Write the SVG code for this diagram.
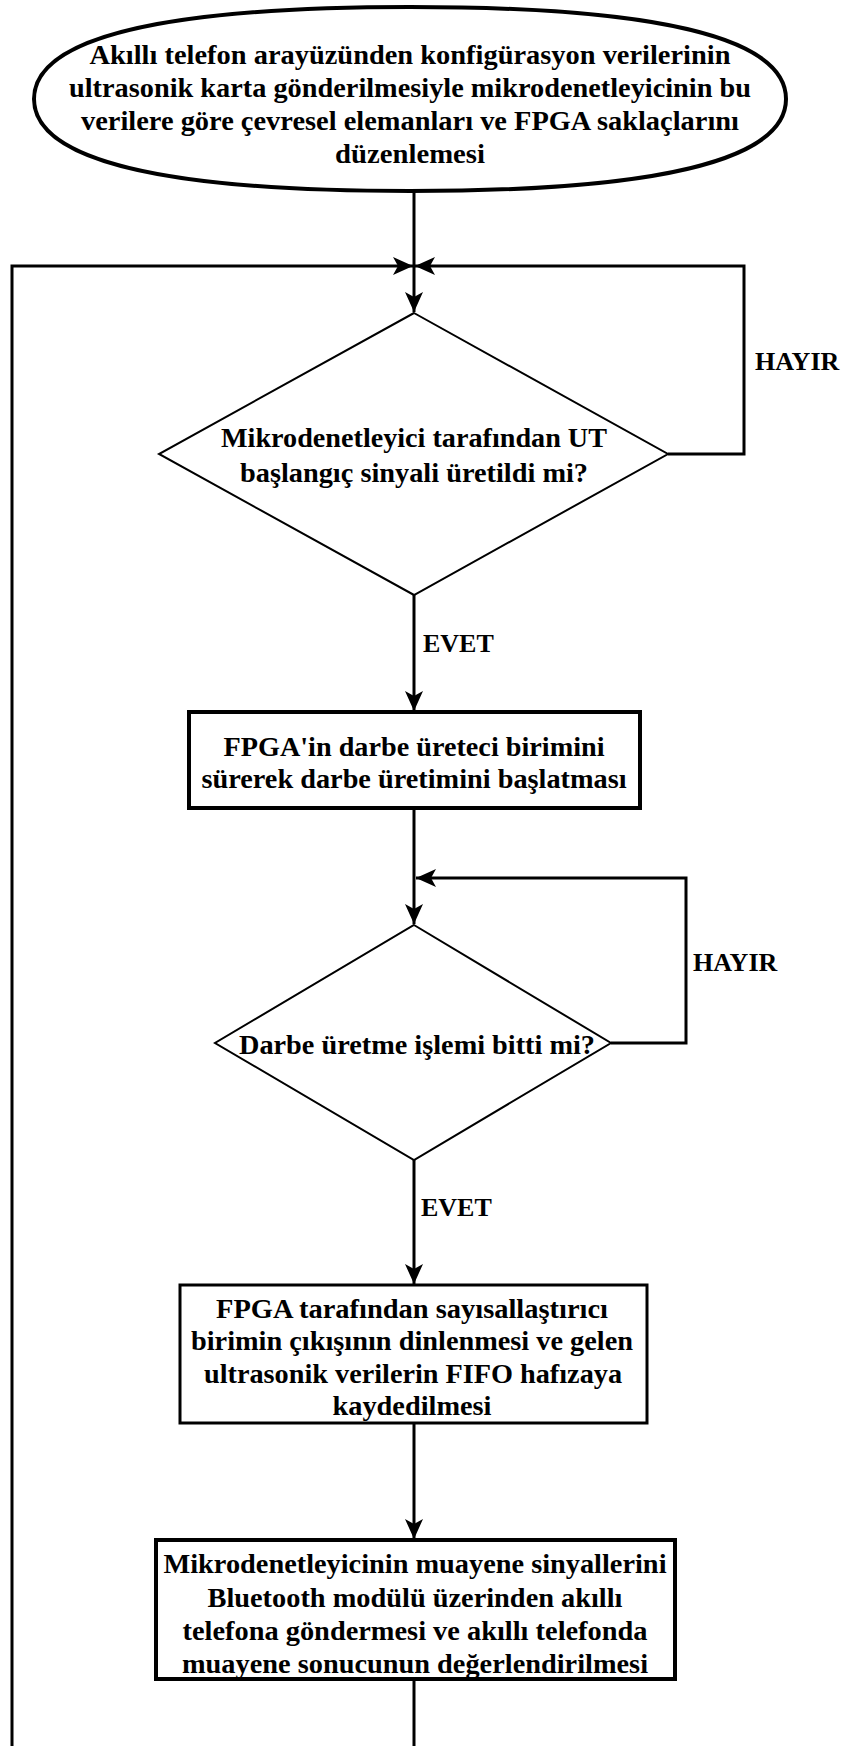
<svg xmlns="http://www.w3.org/2000/svg" width="849" height="1746" viewBox="0 0 849 1746">
  <style>
    .t { font-family: "Liberation Serif", "Times New Roman", serif; font-weight: bold; font-size: 28px; fill: #000; }
    .lbl { font-family: "Liberation Serif", "Times New Roman", serif; font-weight: bold; font-size: 26px; fill: #000; }
    .c { text-anchor: middle; }
    .shape { fill: #fff; stroke: #000; }
    .wire { fill: none; stroke: #000; stroke-width: 3; }
  </style>
  <defs>
    <marker id="arrow" markerUnits="userSpaceOnUse" markerWidth="20" markerHeight="18" refX="20" refY="9" orient="auto">
      <path d="M0,0 L20,9 L0,18 L5,9 Z" fill="#000"/>
    </marker>
  </defs>
  <rect width="849" height="1746" fill="#fff"/>

  <g id="connectors">
    <path class="wire" d="M414,191 V312" marker-end="url(#arrow)"/>
    <path class="wire" d="M12,1746 V266 H413" marker-end="url(#arrow)"/>
    <path class="wire" d="M668,454 H744 V266 H415" marker-end="url(#arrow)"/>
    <path class="wire" d="M414,595 V711" marker-end="url(#arrow)"/>
    <path class="wire" d="M414,808 V924" marker-end="url(#arrow)"/>
    <path class="wire" d="M611,1043 H686 V878 H416" marker-end="url(#arrow)"/>
    <path class="wire" d="M414,1160 V1284" marker-end="url(#arrow)"/>
    <path class="wire" d="M414,1423 V1539" marker-end="url(#arrow)"/>
    <path class="wire" d="M414,1679 V1746"/>
    <text class="lbl" x="755" y="370">HAYIR</text>
    <text class="lbl" x="423" y="652">EVET</text>
    <text class="lbl" x="693" y="971">HAYIR</text>
    <text class="lbl" x="421" y="1216">EVET</text>
  </g>

  <g id="start">
    <!-- oval terminator, a little fuller than a true ellipse -->
    <path class="shape" stroke-width="4" d="M34,99 C34,38 162,7 410,7 C658,7 786,38 786,99 C786,160 658,191 410,191 C162,191 34,160 34,99 Z"/>
    <text class="t c" x="410" y="64" textLength="641" lengthAdjust="spacingAndGlyphs">Akıllı telefon arayüzünden konfigürasyon verilerinin</text>
    <text class="t c" x="410" y="97" textLength="682" lengthAdjust="spacingAndGlyphs">ultrasonik karta gönderilmesiyle mikrodenetleyicinin bu</text>
    <text class="t c" x="410" y="130" textLength="658" lengthAdjust="spacingAndGlyphs">verilere göre çevresel elemanları ve FPGA saklaçlarını</text>
    <text class="t c" x="410" y="163" textLength="150" lengthAdjust="spacingAndGlyphs">düzenlemesi</text>
  </g>

  <g id="decision1">
    <polygon class="shape" points="414,313 668,454 414,595 159,454" stroke-width="2"/>
    <text class="t c" x="414" y="447" textLength="386" lengthAdjust="spacingAndGlyphs">Mikrodenetleyici tarafından UT</text>
    <text class="t c" x="414" y="482" textLength="348" lengthAdjust="spacingAndGlyphs">başlangıç sinyali üretildi mi?</text>
  </g>

  <g id="pulse">
    <rect class="shape" x="189" y="712" width="451" height="96" stroke-width="4"/>
    <text class="t c" x="414" y="756" textLength="381" lengthAdjust="spacingAndGlyphs">FPGA'in darbe üreteci birimini</text>
    <text class="t c" x="414" y="788" textLength="425" lengthAdjust="spacingAndGlyphs">sürerek darbe üretimini başlatması</text>
  </g>

  <g id="decision2">
    <polygon class="shape" points="414,925 611,1043 414,1160 215,1043" stroke-width="2"/>
    <text class="t c" x="417" y="1054" textLength="356" lengthAdjust="spacingAndGlyphs">Darbe üretme işlemi bitti mi?</text>
  </g>

  <g id="capture">
    <rect class="shape" x="180" y="1285" width="467" height="138" stroke-width="3"/>
    <text class="t c" x="412" y="1318" textLength="392" lengthAdjust="spacingAndGlyphs">FPGA tarafından sayısallaştırıcı</text>
    <text class="t c" x="412" y="1350" textLength="442" lengthAdjust="spacingAndGlyphs">birimin çıkışının dinlenmesi ve gelen</text>
    <text class="t c" x="413" y="1383" textLength="418" lengthAdjust="spacingAndGlyphs">ultrasonik verilerin FIFO hafızaya</text>
    <text class="t c" x="412" y="1415" textLength="159" lengthAdjust="spacingAndGlyphs">kaydedilmesi</text>
  </g>

  <g id="transmit">
    <rect class="shape" x="156" y="1540" width="519" height="139" stroke-width="4"/>
    <text class="t c" x="415" y="1573" textLength="503" lengthAdjust="spacingAndGlyphs">Mikrodenetleyicinin muayene sinyallerini</text>
    <text class="t c" x="415" y="1607" textLength="415" lengthAdjust="spacingAndGlyphs">Bluetooth modülü üzerinden akıllı</text>
    <text class="t c" x="415" y="1640" textLength="465" lengthAdjust="spacingAndGlyphs">telefona göndermesi ve akıllı telefonda</text>
    <text class="t c" x="415" y="1673" textLength="466" lengthAdjust="spacingAndGlyphs">muayene sonucunun değerlendirilmesi</text>
  </g>
</svg>
